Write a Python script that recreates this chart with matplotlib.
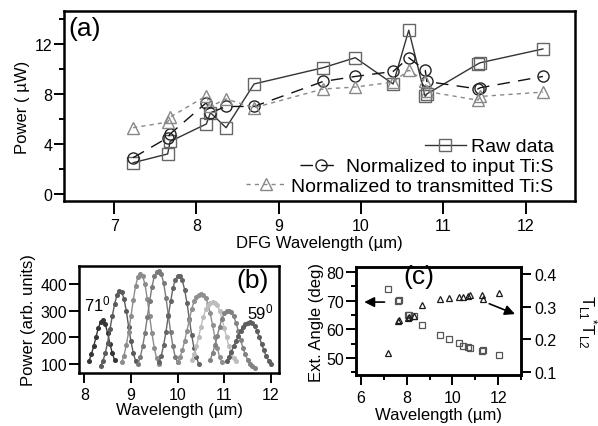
import matplotlib
matplotlib.use("Agg")
import matplotlib.pyplot as plt
import numpy as np

plt.rcParams['font.family'] = ['Liberation Sans', 'DejaVu Sans']
plt.rcParams['mathtext.fontset'] = 'custom'
plt.rcParams['mathtext.rm'] = 'Liberation Sans'
plt.rcParams['mathtext.it'] = 'Liberation Sans:italic'

# panel (a): DFG power vs wavelength
wl_a = [7.23, 7.65, 7.68, 8.12, 8.17, 8.36, 8.70, 9.54, 9.93, 10.39, 10.58, 10.78, 10.80, 11.42, 11.45, 12.21]
raw = [2.5, 3.2, 4.2, 5.6, 6.5, 5.3, 8.8, 10.1, 10.9, 8.8, 13.1, 7.8, 8.0, 10.4, 10.5, 11.6]
norm_in = [2.9, 4.5, 4.8, 7.3, 6.5, 7.0, 7.0, 9.0, 9.4, 9.8, 10.9, 9.9, 9.0, 8.4, 8.5, 9.4]
norm_tr = [5.3, 5.75, 6.15, 7.85, 7.0, 7.6, 6.9, 8.4, 8.55, 8.95, 9.9, 9.0, 8.2, 7.5, 7.8, 8.15]
labels_a = ['Raw data', 'Normalized to input Ti:S', 'Normalized to transmitted Ti:S']

# panel (b): tuning curves, samples every 0.05 um from the start wavelength
curve_start = [8.10, 8.35, 8.80, 9.15, 9.60, 10.00, 10.30, 10.70, 11.05]
curve_vals = [
    [110, 135, 165, 200, 235, 258, 264, 250, 215, 175, 140, 113],
    [92, 110, 140, 180, 230, 280, 325, 360, 375, 372, 345, 300, 240, 185, 140, 110],
    [105, 130, 170, 220, 280, 340, 395, 428, 440, 432, 400, 345, 280, 215, 160, 120, 100],
    [100, 125, 165, 215, 275, 335, 390, 430, 448, 452, 440, 405, 350, 285, 220, 165, 125, 105],
    [105, 130, 170, 220, 280, 335, 385, 418, 430, 430, 415, 380, 330, 270, 210, 160, 125, 100],
    [108, 125, 150, 185, 225, 265, 305, 335, 353, 360, 362, 360, 350, 325, 290, 245, 200, 160, 125, 105],
    [113, 135, 165, 200, 240, 275, 305, 322, 330, 332, 330, 320, 300, 270, 235, 200, 165, 140, 120, 110],
    [115, 140, 170, 205, 240, 270, 290, 298, 300, 295, 280, 255, 225, 190, 160, 135, 115, 100, 90, 85],
    [110, 125, 145, 165, 185, 205, 225, 240, 250, 255, 256, 253, 243, 225, 200, 175, 150, 128, 112, 100],
]
curve_colors = ['#353535', '#5a5a5a', '#8c8c8c', '#7a7a7a', '#656565', '#8f8f8f', '#bdbdbd', '#828282', '#5e5e5e']

# panel (c): external angle and transmission product
wl_c = [7.18, 7.62, 7.65, 8.06, 8.12, 8.30, 8.68, 9.47, 9.86, 10.30, 10.47, 10.70, 10.75, 11.30, 11.35, 12.05]
ext_angle = [74.1, 69.9, 70.2, 65.0, 65.0, 64.7, 61.5, 58.0, 56.5, 55.2, 54.3, 53.8, 53.6, 52.6, 52.8, 51.1]
trans = [0.158, 0.255, 0.26, 0.265, 0.267, 0.27, 0.305, 0.323, 0.325, 0.33, 0.33, 0.332, 0.336, 0.336, 0.323, 0.342]

fig = plt.figure(figsize=(5.98, 4.27), dpi=100)


def style(ax):
    for s in ax.spines.values():
        s.set_linewidth(1.8)
    ax.tick_params(which='both', direction='out', width=1.4, labelsize=11.5)
    ax.tick_params(which='major', length=7)
    ax.tick_params(which='minor', length=3.8)
    ax.tick_params(axis='y', pad=1.5)


# ---- (a)
ax = fig.add_axes([0.107, 0.527, 0.8545, 0.445])
h1, = ax.plot(wl_a, raw, '-', color='#333333', lw=1.0, marker='s', ms=8, mfc='none', mec='#666666', mew=1.0)
h2, = ax.plot(wl_a, norm_in, color='#111111', lw=1.0, dashes=(9, 6), marker='o', ms=8, mfc='none',
              mec='#222222', mew=1.0)
h3, = ax.plot(wl_a, norm_tr, color='#888888', lw=1.0, dashes=(3, 3), marker='^', ms=8, mfc='none',
              mec='#888888', mew=1.0)
ax.set_xlim(6.39, 12.6)
ax.set_ylim(-0.56, 14.64)
ax.set_xticks([7, 8, 9, 10, 11, 12])
ax.set_yticks([0, 4, 8, 12])
ax.set_yticks([2, 6, 10, 14], minor=True)
style(ax)
ax.tick_params(axis='x', length=9)
ax.set_xlabel('DFG Wavelength (µm)', fontsize=12, labelpad=1)
ax.set_ylabel('Power ( µW)', fontsize=12, labelpad=3)
ax.text(0.008, 0.975, '(a)', transform=ax.transAxes, fontsize=19, va='top', ha='left')

# right-aligned legend rows, one legend per row
rows = list(zip([h1, h2, h3], labels_a, [0.24, 0.135, 0.03]))
for i, (h, lab, yb) in enumerate(rows):
    lg = ax.legend([h], [lab], loc='lower right', bbox_to_anchor=(0.958, yb), frameon=False,
                   fontsize=14, handlelength=2.1, handletextpad=0.25, borderpad=0, borderaxespad=0)
    if i < len(rows) - 1:
        ax.add_artist(lg)

# ---- (b)
axb = fig.add_axes([0.1316, 0.1248, 0.3355, 0.2499])
for st, vals, c in zip(curve_start, curve_vals, curve_colors):
    x = st + 0.05 * np.arange(len(vals))
    axb.plot(x, vals, '-', color=c, lw=1.0, marker='o', ms=2.6, mec=c, mfc=c)
axb.set_xlim(7.88, 12.18)
axb.set_ylim(66, 469)
axb.set_xticks([8, 9, 10, 11, 12])
axb.set_yticks([100, 200, 300, 400])
style(axb)
axb.set_xlabel('Wavelength (µm)', fontsize=12, labelpad=0)
axb.set_ylabel('Power (arb. units)', fontsize=12, labelpad=3)
axb.text(8.0, 290, r'71$^{\mathregular{0}}$', fontsize=12, ha='left', va='bottom')
axb.text(11.48, 258, r'59$^{\mathregular{0}}$', fontsize=12, ha='left', va='bottom')
axb.text(0.945, 0.98, '(b)', transform=axb.transAxes, fontsize=19, va='top', ha='right')

# ---- (c)
axc = fig.add_axes([0.5953, 0.1194, 0.2759, 0.2529])
axc.plot(wl_c, ext_angle, 's', ms=4.2, mfc='none', mec='#555555', mew=0.9)
axc.set_xlim(5.78, 13.0)
axc.set_ylim(44.1, 81.7)
axc.set_xticks([6, 8, 10, 12])
axc.set_xticks([7, 9, 11, 13], minor=True)
axc.set_yticks([50, 60, 70, 80])
axc.set_yticks([45, 55, 65, 75], minor=True)
style(axc)
axc.set_xlabel('Wavelength (µm)', fontsize=12, labelpad=2)
axc.set_ylabel('Ext. Angle (deg)', fontsize=12, labelpad=2)
axc2 = axc.twinx()
axc2.plot(wl_c, trans, '^', ms=4.2, mfc='none', mec='#1a1a1a', mew=0.9)
axc2.set_ylim(0.091, 0.421)
axc2.set_yticks([0.1, 0.2, 0.3, 0.4])
style(axc2)
axc2.tick_params(axis='y', pad=2.5)
axc2.set_ylabel(r'$\mathregular{T_{L1}{}^{*}T_{L2}}$', fontsize=12, rotation=270, labelpad=30)
axc.annotate('', xy=(6.02, 69.5), xytext=(7.15, 69.5),
             arrowprops=dict(arrowstyle='-|>', color='black', lw=1.2, mutation_scale=15))
axc2.annotate('', xy=(12.85, 0.274), xytext=(11.5, 0.312),
              arrowprops=dict(arrowstyle='-|>', color='black', lw=1.2, mutation_scale=15))
axc.text(0.38, 1.03, '(c)', transform=axc.transAxes, fontsize=19, va='top', ha='center')

fig.savefig('out.png', dpi=100)
